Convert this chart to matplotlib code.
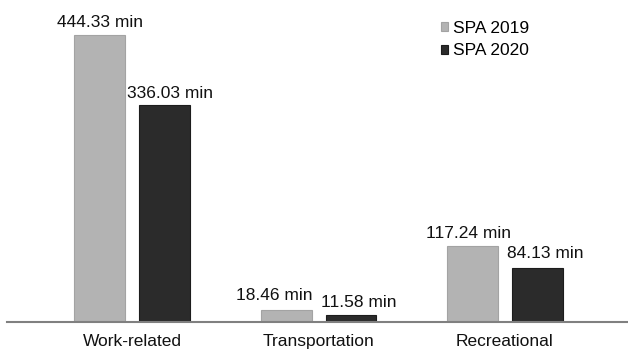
import numpy as np
import matplotlib.pyplot as plt

plt.rcParams['font.family'] = ['Liberation Sans', 'DejaVu Sans']

categories = ['Work-related', 'Transportation', 'Recreational']
spa_2019 = [444.33, 18.46, 117.24]
spa_2020 = [336.03, 11.58, 84.13]
series_names = ['SPA 2019', 'SPA 2020']

# label nudges in pixels (x, y above bar top)
nudge_2019 = [(0, 8), (-12, 10), (-4, 8)]
nudge_2020 = [(5, 7), (8, 8), (8, 10)]

fig = plt.figure(figsize=(6.28, 3.54), dpi=100)
ax = fig.add_axes([7 / 628, 32 / 354, 621 / 628, 322 / 354])

x = np.arange(len(categories))
w = 0.273
off = 0.174
b1 = ax.bar(x - off, spa_2019, w, color='#b3b3b3', edgecolor='#a3a3a3', linewidth=0.8, label=series_names[0])
b2 = ax.bar(x + off, spa_2020, w, color='#2b2b2b', edgecolor='#1c1c1c', linewidth=0.8, label=series_names[1])

px = 0.72  # points per pixel at dpi 100
for bars, vals, nud in [(b1, spa_2019, nudge_2019), (b2, spa_2020, nudge_2020)]:
    for rect, v, (dx, dy) in zip(bars, vals, nud):
        ax.annotate(f'{v:.2f} min', (rect.get_x() + rect.get_width() / 2, v),
                    xytext=(dx * px, dy * px), textcoords='offset points',
                    ha='center', va='baseline', fontsize=12.5, color='#111111')

ax.set_xlim(-0.672, 2.66)
ax.set_ylim(0, 498)
ax.set_xticks(x)
ax.set_xticklabels(categories, fontsize=12.5, color='#111111')
ax.tick_params(axis='x', length=0, pad=8.4)
ax.set_yticks([])
for s in ['top', 'right', 'left']:
    ax.spines[s].set_visible(False)
ax.spines['bottom'].set_color('#808080')
ax.spines['bottom'].set_linewidth(1.5)

leg = ax.legend(loc='upper left', bbox_to_anchor=(441 / 628, 1 - 21 / 354), bbox_transform=fig.transFigure,
                frameon=False, fontsize=12.5, handlelength=0.42, handleheight=0.42,
                handletextpad=0.28, labelspacing=0.42, borderaxespad=0, borderpad=0)

fig.savefig('out.png', dpi=100)
